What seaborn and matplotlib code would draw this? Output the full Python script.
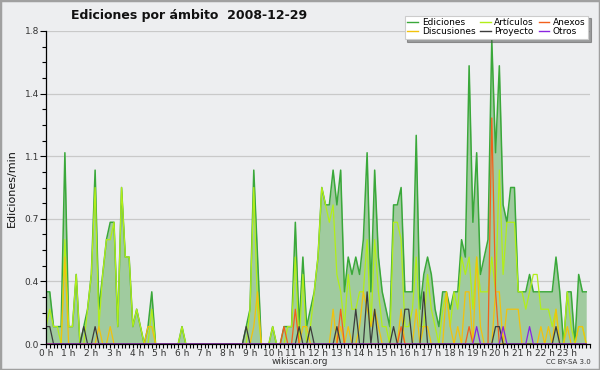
import numpy as np
import pandas as pd
import matplotlib
matplotlib.use("Agg")
import matplotlib.pyplot as plt
from matplotlib.ticker import MultipleLocator
from matplotlib.patches import Rectangle
from matplotlib.lines import Line2D
import seaborn as sns

# 10-minute bins over the day (144 values), edits per minute
ediciones = [
    0.3, 0.3, 0.1, 0.1, 0.1, 1.1, 0.1, 0.1, 0.4, 0.0, 0.1, 0.2,
    0.4, 1.0, 0.2, 0.4, 0.6, 0.7, 0.7, 0.1, 0.9, 0.5, 0.5, 0.1,
    0.2, 0.1, 0.0, 0.1, 0.3, 0.0, 0.0, 0.0, 0.0, 0.0, 0.0, 0.0,
    0.1, 0.0, 0.0, 0.0, 0.0, 0.0, 0.0, 0.0, 0.0, 0.0, 0.0, 0.0,
    0.0, 0.0, 0.0, 0.0, 0.0, 0.1, 0.2, 1.0, 0.5, 0.0, 0.0, 0.0,
    0.1, 0.0, 0.0, 0.1, 0.1, 0.1, 0.7, 0.1, 0.5, 0.1, 0.2, 0.3,
    0.5, 0.9, 0.8, 0.8, 1.0, 0.8, 1.0, 0.3, 0.5, 0.4, 0.5, 0.4,
    0.6, 1.1, 0.3, 1.0, 0.5, 0.3, 0.2, 0.1, 0.8, 0.8, 0.9, 0.3,
    0.3, 0.3, 1.2, 0.2, 0.4, 0.5, 0.4, 0.2, 0.1, 0.3, 0.3, 0.2,
    0.3, 0.3, 0.6, 0.5, 1.6, 0.7, 1.1, 0.4, 0.5, 0.6, 1.75, 1.1,
    1.6, 0.8, 0.7, 0.9, 0.9, 0.3, 0.3, 0.3, 0.4, 0.3, 0.3, 0.3,
    0.3, 0.3, 0.3, 0.5, 0.3, 0.0, 0.3, 0.3, 0.0, 0.4, 0.3, 0.3,
]
articulos = [
    0.1, 0.2, 0.1, 0.1, 0.0, 0.6, 0.1, 0.1, 0.4, 0.0, 0.0, 0.2,
    0.4, 0.9, 0.1, 0.4, 0.6, 0.6, 0.7, 0.1, 0.9, 0.5, 0.5, 0.1,
    0.2, 0.1, 0.0, 0.0, 0.2, 0.0, 0.0, 0.0, 0.0, 0.0, 0.0, 0.0,
    0.1, 0.0, 0.0, 0.0, 0.0, 0.0, 0.0, 0.0, 0.0, 0.0, 0.0, 0.0,
    0.0, 0.0, 0.0, 0.0, 0.0, 0.0, 0.2, 0.9, 0.2, 0.0, 0.0, 0.0,
    0.1, 0.0, 0.0, 0.0, 0.1, 0.1, 0.5, 0.0, 0.4, 0.0, 0.1, 0.3,
    0.5, 0.9, 0.8, 0.7, 0.8, 0.4, 0.3, 0.1, 0.4, 0.2, 0.2, 0.3,
    0.3, 0.6, 0.1, 0.6, 0.3, 0.1, 0.1, 0.0, 0.7, 0.7, 0.6, 0.1,
    0.1, 0.2, 0.5, 0.1, 0.1, 0.4, 0.2, 0.1, 0.0, 0.2, 0.3, 0.1,
    0.3, 0.2, 0.5, 0.4, 0.5, 0.2, 0.5, 0.3, 0.3, 0.3, 0.5, 0.3,
    1.0, 0.4, 0.7, 0.7, 0.7, 0.3, 0.3, 0.2, 0.3, 0.4, 0.4, 0.2,
    0.2, 0.2, 0.1, 0.2, 0.0, 0.0, 0.3, 0.1, 0.0, 0.1, 0.1, 0.0,
]
discusiones = [
    0.0, 0.0, 0.0, 0.0, 0.0, 0.5, 0.0, 0.0, 0.0, 0.0, 0.0, 0.0,
    0.0, 0.0, 0.1, 0.0, 0.0, 0.1, 0.0, 0.0, 0.0, 0.0, 0.0, 0.0,
    0.0, 0.0, 0.0, 0.1, 0.1, 0.0, 0.0, 0.0, 0.0, 0.0, 0.0, 0.0,
    0.0, 0.0, 0.0, 0.0, 0.0, 0.0, 0.0, 0.0, 0.0, 0.0, 0.0, 0.0,
    0.0, 0.0, 0.0, 0.0, 0.0, 0.0, 0.0, 0.1, 0.3, 0.0, 0.0, 0.0,
    0.0, 0.0, 0.0, 0.0, 0.0, 0.0, 0.0, 0.0, 0.1, 0.1, 0.0, 0.0,
    0.0, 0.0, 0.0, 0.0, 0.2, 0.0, 0.1, 0.0, 0.1, 0.0, 0.0, 0.1,
    0.3, 0.2, 0.1, 0.2, 0.1, 0.0, 0.0, 0.0, 0.0, 0.0, 0.2, 0.0,
    0.0, 0.0, 0.2, 0.0, 0.1, 0.1, 0.0, 0.0, 0.0, 0.0, 0.3, 0.1,
    0.0, 0.1, 0.0, 0.3, 0.3, 0.0, 0.5, 0.1, 0.0, 0.0, 0.0, 0.3,
    0.3, 0.0, 0.2, 0.2, 0.2, 0.2, 0.0, 0.0, 0.0, 0.0, 0.0, 0.1,
    0.0, 0.1, 0.0, 0.2, 0.0, 0.0, 0.1, 0.0, 0.0, 0.1, 0.1, 0.0,
]
anexos = [
    0.0, 0.0, 0.0, 0.0, 0.0, 0.0, 0.0, 0.0, 0.0, 0.0, 0.0, 0.0,
    0.0, 0.0, 0.0, 0.0, 0.0, 0.0, 0.0, 0.0, 0.0, 0.0, 0.0, 0.0,
    0.0, 0.0, 0.0, 0.0, 0.0, 0.0, 0.0, 0.0, 0.0, 0.0, 0.0, 0.0,
    0.0, 0.0, 0.0, 0.0, 0.0, 0.0, 0.0, 0.0, 0.0, 0.0, 0.0, 0.0,
    0.0, 0.0, 0.0, 0.0, 0.0, 0.0, 0.0, 0.0, 0.0, 0.0, 0.0, 0.0,
    0.0, 0.0, 0.0, 0.1, 0.0, 0.0, 0.2, 0.0, 0.0, 0.0, 0.0, 0.0,
    0.0, 0.0, 0.0, 0.0, 0.0, 0.0, 0.2, 0.0, 0.0, 0.0, 0.0, 0.0,
    0.0, 0.0, 0.0, 0.0, 0.0, 0.0, 0.0, 0.0, 0.0, 0.0, 0.1, 0.0,
    0.0, 0.0, 0.0, 0.0, 0.0, 0.0, 0.0, 0.0, 0.0, 0.0, 0.0, 0.0,
    0.0, 0.0, 0.0, 0.0, 0.1, 0.0, 0.0, 0.0, 0.0, 0.0, 1.3, 0.3,
    0.0, 0.0, 0.0, 0.0, 0.0, 0.0, 0.0, 0.0, 0.0, 0.0, 0.0, 0.0,
    0.0, 0.0, 0.0, 0.0, 0.0, 0.0, 0.0, 0.0, 0.0, 0.0, 0.0, 0.0,
]
proyecto = [
    0.1, 0.1, 0.0, 0.0, 0.0, 0.0, 0.0, 0.0, 0.0, 0.0, 0.1, 0.0,
    0.0, 0.1, 0.0, 0.0, 0.0, 0.0, 0.0, 0.0, 0.0, 0.0, 0.0, 0.0,
    0.0, 0.0, 0.0, 0.0, 0.0, 0.0, 0.0, 0.0, 0.0, 0.0, 0.0, 0.0,
    0.0, 0.0, 0.0, 0.0, 0.0, 0.0, 0.0, 0.0, 0.0, 0.0, 0.0, 0.0,
    0.0, 0.0, 0.0, 0.0, 0.0, 0.1, 0.0, 0.0, 0.0, 0.0, 0.0, 0.0,
    0.0, 0.0, 0.0, 0.0, 0.0, 0.0, 0.0, 0.1, 0.0, 0.0, 0.1, 0.0,
    0.0, 0.0, 0.0, 0.0, 0.0, 0.1, 0.0, 0.0, 0.0, 0.0, 0.2, 0.0,
    0.0, 0.3, 0.0, 0.2, 0.0, 0.0, 0.0, 0.0, 0.1, 0.0, 0.0, 0.2,
    0.2, 0.0, 0.0, 0.0, 0.3, 0.0, 0.0, 0.0, 0.0, 0.0, 0.0, 0.0,
    0.0, 0.0, 0.0, 0.0, 0.0, 0.0, 0.0, 0.0, 0.0, 0.0, 0.0, 0.1,
    0.1, 0.0, 0.0, 0.0, 0.0, 0.0, 0.0, 0.0, 0.0, 0.0, 0.0, 0.0,
    0.0, 0.0, 0.0, 0.1, 0.0, 0.0, 0.0, 0.0, 0.0, 0.0, 0.0, 0.0,
]
otros = [
    0.0, 0.0, 0.0, 0.0, 0.0, 0.0, 0.0, 0.0, 0.0, 0.0, 0.0, 0.0,
    0.0, 0.0, 0.0, 0.0, 0.0, 0.0, 0.0, 0.0, 0.0, 0.0, 0.0, 0.0,
    0.0, 0.0, 0.0, 0.0, 0.0, 0.0, 0.0, 0.0, 0.0, 0.0, 0.0, 0.0,
    0.0, 0.0, 0.0, 0.0, 0.0, 0.0, 0.0, 0.0, 0.0, 0.0, 0.0, 0.0,
    0.0, 0.0, 0.0, 0.0, 0.0, 0.0, 0.0, 0.0, 0.0, 0.0, 0.0, 0.0,
    0.0, 0.0, 0.0, 0.0, 0.0, 0.0, 0.0, 0.0, 0.0, 0.0, 0.0, 0.0,
    0.0, 0.0, 0.0, 0.0, 0.0, 0.0, 0.0, 0.0, 0.0, 0.0, 0.0, 0.0,
    0.0, 0.0, 0.0, 0.0, 0.0, 0.0, 0.0, 0.0, 0.0, 0.0, 0.0, 0.0,
    0.0, 0.0, 0.0, 0.0, 0.0, 0.0, 0.0, 0.0, 0.0, 0.0, 0.0, 0.0,
    0.0, 0.0, 0.0, 0.0, 0.0, 0.0, 0.1, 0.0, 0.0, 0.0, 0.0, 0.0,
    0.0, 0.1, 0.0, 0.0, 0.0, 0.0, 0.0, 0.0, 0.1, 0.0, 0.0, 0.0,
    0.0, 0.0, 0.0, 0.0, 0.0, 0.0, 0.0, 0.0, 0.0, 0.0, 0.0, 0.0,
]
hour_labels = [f"{h} h" for h in range(24)]
y_tick_values = [0.0, 0.36, 0.72, 1.08, 1.44, 1.8]

BG = "#EDEEF0"
colors = {
    "Ediciones": "#3aa83a",
    "Artículos": "#b2ee18",
    "Anexos": "#f2601c",
    "Discusiones": "#f2c20c",
    "Proyecto": "#3c3c3c",
    "Otros": "#8a24e0",
}

hora = np.arange(len(ediciones)) / 6.0
df = pd.DataFrame({
    "hora": hora,
    "Ediciones": ediciones,
    "Artículos": articulos,
    "Discusiones": discusiones,
    "Anexos": anexos,
    "Proyecto": proyecto,
    "Otros": otros,
})

fig = plt.figure(figsize=(6, 3.7), dpi=100, facecolor=BG)
ax = fig.add_axes([46 / 600, 26 / 370, 544 / 600, 313 / 370])
ax.set_facecolor(BG)

ax.fill_between(df["hora"], df["Ediciones"], 0, color="#a0cb9f", lw=0, zorder=2)
sns.lineplot(data=df, x="hora", y="Ediciones", ax=ax, color=colors["Ediciones"], lw=1.1, zorder=3)
for name in ["Artículos", "Discusiones", "Anexos", "Proyecto", "Otros"]:
    sns.lineplot(data=df, x="hora", y=name, ax=ax, color=colors[name], lw=0.9, zorder=4)

ax.set_xlim(0, 24)
ax.set_ylim(0, 1.8)
ax.set_xticks(range(24))
ax.set_xticklabels(hour_labels)
ax.xaxis.set_minor_locator(MultipleLocator(1 / 6))
ax.set_yticks(y_tick_values)
ax.set_yticklabels([f"{v:.1f}" for v in y_tick_values])
ax.yaxis.set_minor_locator(MultipleLocator(0.09))
ax.tick_params(axis="x", which="major", direction="out", length=3, width=0.8,
               labelsize=6.5, labelcolor="#333333", pad=0.5)
ax.tick_params(axis="y", which="major", direction="out", length=4, width=0.8,
               labelsize=6.5, labelcolor="#333333", pad=1)
ax.tick_params(axis="both", which="minor", direction="out", length=3, width=0.8)
ax.set_xlabel("")
ax.set_ylabel("")
ax.yaxis.grid(True, which="major", color="#c9c9c9", lw=0.9, zorder=0)
ax.set_axisbelow(True)
for s in ["top", "right"]:
    ax.spines[s].set_visible(False)
for s in ["left", "bottom"]:
    ax.spines[s].set_color("black")
    ax.spines[s].set_linewidth(0.9)
    ax.spines[s].set_zorder(5)

fig.text(0.315, 0.957, "Ediciones por ámbito  2008-12-29", ha="center", va="center",
         fontsize=9, fontweight="bold", color="#111111")
fig.text(0.019, 0.492, "Ediciones/min", rotation=90, ha="center", va="center",
         fontsize=8, color="#111111")
fig.text(0.5, 0.022, "wikiscan.org", ha="center", va="center", fontsize=6.5, color="#333333")
fig.text(0.947, 0.021, "CC BY-SA 3.0", ha="center", va="center", fontsize=5, color="#333333")

order = ["Ediciones", "Discusiones", "Artículos", "Proyecto", "Anexos", "Otros"]
handles = [Line2D([0], [0], color=colors[n], lw=1.0) for n in order]
leg = fig.legend(handles, order, loc="upper right", bbox_to_anchor=(0.988, 0.97), ncol=3,
                 fontsize=6.5, frameon=True, fancybox=False, shadow=True, edgecolor="#cccccc",
                 handlelength=1.2, handletextpad=0.4, columnspacing=0.5, labelspacing=0.0,
                 borderpad=0.3)
leg.get_frame().set_facecolor("white")
leg.get_frame().set_linewidth(0.8)

fig.patches.append(Rectangle((0, 0), 1, 1, transform=fig.transFigure, fill=False,
                             edgecolor="#a0a0a0", lw=2.5))

fig.savefig("out.png", dpi=100, facecolor=BG)
